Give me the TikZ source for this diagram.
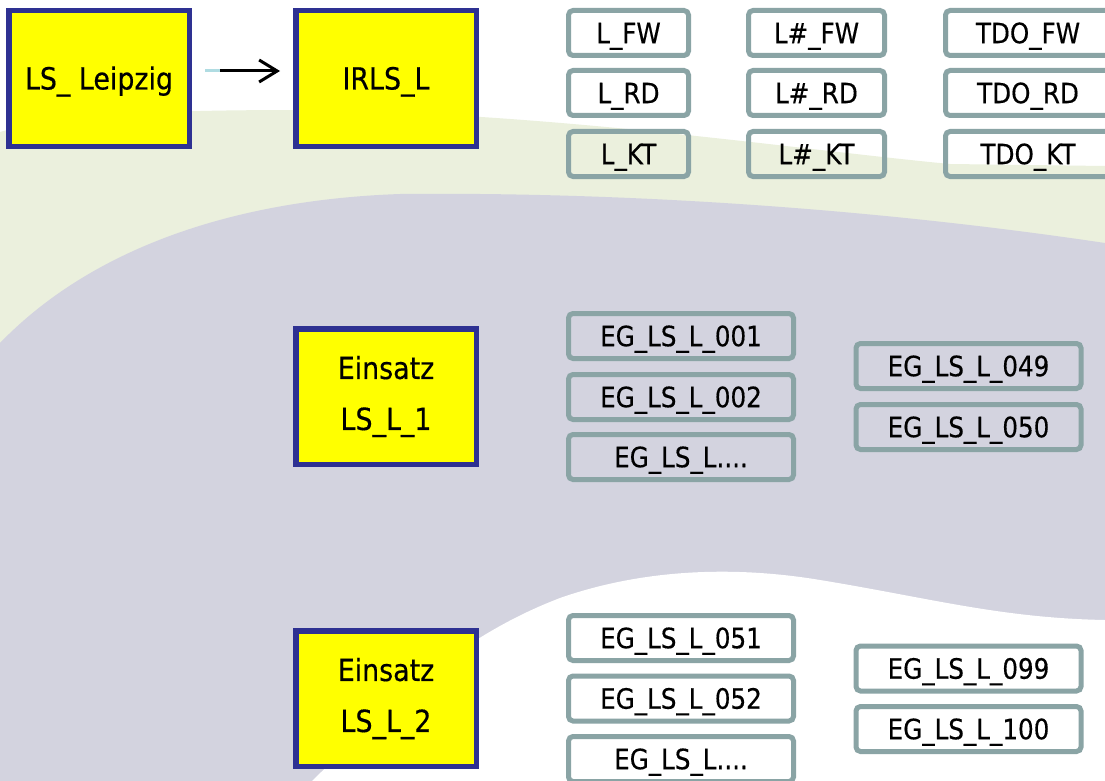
\documentclass[tikz,border=0pt]{standalone}
\usepackage{fontspec}
\setmainfont{DejaVu Sans}[FakeStretch=0.88,FakeBold=0.4]
\usetikzlibrary{arrows.meta}
\definecolor{bggreen}{RGB}{235,240,221}
\definecolor{bglav}{RGB}{211,211,223}
\definecolor{ybord}{RGB}{46,49,146}
\definecolor{yel}{RGB}{255,255,0}
\definecolor{gbord}{RGB}{138,164,165}
\definecolor{lcyan}{RGB}{176,220,226}
\tikzset{
  ybox/.style={draw=ybord, line width=5.5pt, fill=yel, inner sep=0pt,
    minimum width=180.5pt, minimum height=135.5pt, font=\fontsize{30.5}{51}\selectfont},
  ysingle/.style={text height=22pt, text depth=0pt},
  gbox/.style={draw=gbord, line width=5pt, rounded corners=4.5pt, inner sep=0pt,
    minimum height=45pt, font=\fontsize{28}{32}\selectfont, text height=20.4pt, text depth=0pt},
  gsmall/.style={gbox, minimum width=120pt},
  gmid/.style={gbox, minimum width=136pt},
  gtdo/.style={gbox, minimum width=165pt},
  geg/.style={gbox, minimum width=225pt},
  conn/.style={line width=3pt},
}
\begin{document}
\begin{tikzpicture}[x=1pt,y=-1pt]
\useasboundingbox (0,0) rectangle (1105,781);
\fill[white] (0,0) rectangle (1105,781);
% background bands
\fill[bggreen] (0,132) .. controls (60,115) and (150,110) .. (300,110)
  .. controls (550,112) and (800,150) .. (950,164) -- (1105,166)
  -- (1105,781) -- (0,781) -- cycle;
\fill[bglav] (0,343) .. controls (90,250) and (230,200) .. (400,194)
  .. controls (600,192) and (850,205) .. (1105,243)
  -- (1105,781) -- (0,781) -- cycle;
\fill[white] (312,781) .. controls (380,715) and (450,640) .. (560,598)
  .. controls (640,570) and (730,565) .. (820,580)
  .. controls (930,598) and (1000,618) .. (1105,620)
  -- (1105,781) -- cycle;

% yellow boxes
\node[ybox, ysingle] (ls) at (99,78.5) {LS\_ Leipzig};
\node[ybox, ysingle] (irls) at (386,78.5) {IRLS\_L};
\node[ybox, align=center] (e1) at (386,396.5) {Einsatz\\LS\_L\_1};
\node[ybox, align=center] (e2) at (386,698.5) {Einsatz\\LS\_L\_2};

% arrow
\coordinate (lsb) at ([xshift=28pt,yshift=7.5pt]ls.east);
\draw[conn, lcyan, shorten <=13pt] ([yshift=7.5pt]ls.east) -- (lsb);
\draw[conn, black, shorten >=13pt, -{Straight Barb[length=18pt,width=22pt]}] (lsb) -- ([yshift=7.5pt]irls.west);

% top gray boxes
\node[gsmall] (lfw) at (628.5,33) {L\_FW};
\node[gsmall] (lrd) at (628.5,93) {L\_RD};
\node[gsmall] (lkt) at (628.5,154) {L\_KT};
\node[gmid] (hfw) at (816.5,33) {L\#\_FW};
\node[gmid] (hrd) at (816.5,93) {L\#\_RD};
\node[gmid] (hkt) at (816.5,154) {L\#\_KT};
\node[gtdo] (tfw) at (1028,33) {TDO\_FW};
\node[gtdo] (trd) at (1028,93) {TDO\_RD};
\node[gtdo] (tkt) at (1028,154) {TDO\_KT};

% EG group 1
\node[geg] (g001) at (681,336) {EG\_LS\_L\_001};
\node[geg] (g002) at (681,397) {EG\_LS\_L\_002};
\node[geg] (g00x) at (681,457) {EG\_LS\_L....};
\node[geg] (g049) at (968.5,366) {EG\_LS\_L\_049};
\node[geg] (g050) at (968.5,427) {EG\_LS\_L\_050};

% EG group 2
\node[geg] (g051) at (681,638) {EG\_LS\_L\_051};
\node[geg] (g052) at (681,698.5) {EG\_LS\_L\_052};
\node[geg] (g05x) at (681,759) {EG\_LS\_L....};
\node[geg] (g099) at (968.5,668.5) {EG\_LS\_L\_099};
\node[geg] (g100) at (968.5,729) {EG\_LS\_L\_100};
\end{tikzpicture}
\end{document}
